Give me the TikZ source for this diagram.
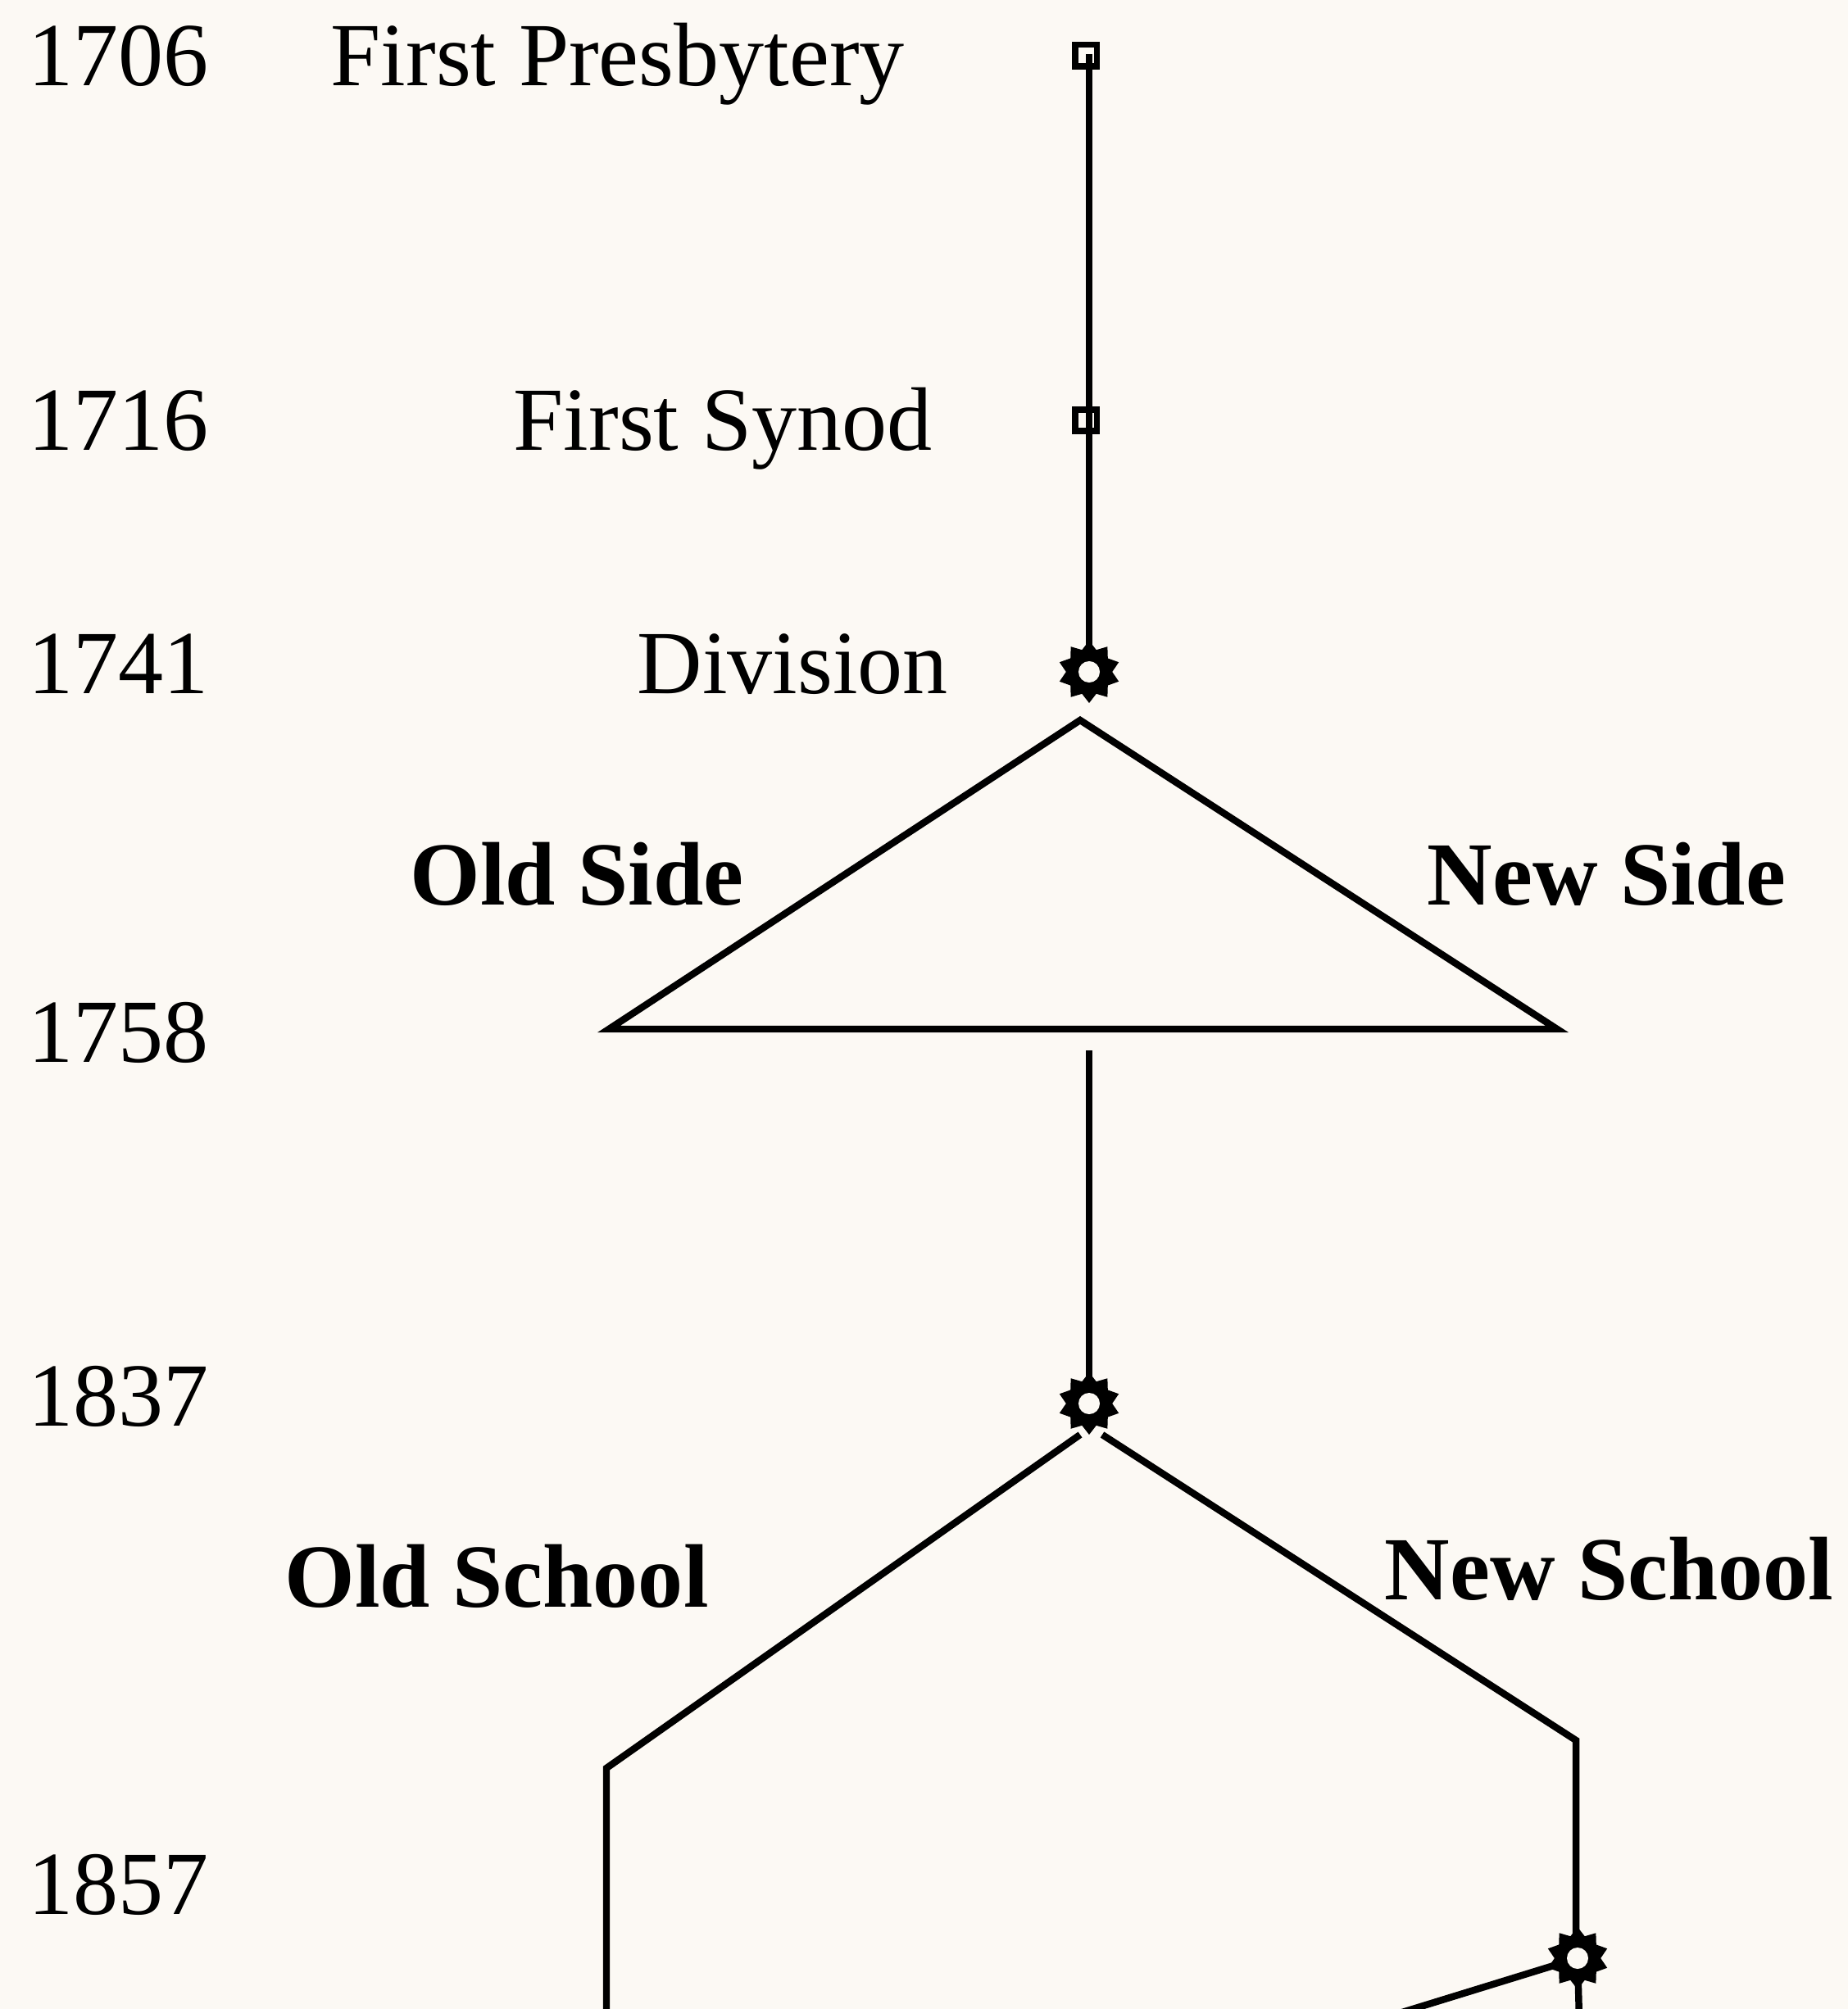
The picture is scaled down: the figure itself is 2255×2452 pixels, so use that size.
\documentclass[tikz,border=0pt]{standalone}
\usepackage{fontspec}
\setmainfont{Liberation Serif}
\usetikzlibrary{shapes.geometric}
\definecolor{bgc}{RGB}{252,249,244}
\begin{document}
\begin{tikzpicture}[x=0.01cm,y=-0.01cm,
  lbl/.style={anchor=base west,inner sep=0,font=\fontsize{31.3}{36}\selectfont},
  blbl/.style={anchor=base west,inner sep=0,font=\fontsize{31.3}{36}\selectfont\bfseries},
  ln/.style={line width=2.4pt,line join=miter},
  sqmark/.style={rectangle,draw,line width=2pt,fill=bgc,minimum size=0.26cm,inner sep=0},
  gearmark/.style={star,star points=10,star point ratio=1.35,fill=black,minimum size=0.76cm,inner sep=0},
  holemark/.style={circle,fill=bgc,minimum size=0.26cm,inner sep=0}]
\fill[bgc] (0,0) rectangle (2255,2452);
\clip (0,0) rectangle (2255,2452);
% years
\node[lbl] (y1706) at (34,105) {1706};
\node[lbl] (y1716) at (34,550) {1716};
\node[lbl] (y1741) at (34,846) {1741};
\node[lbl] (y1758) at (34,1296) {1758};
\node[lbl] (y1837) at (34,1740) {1837};
\node[lbl] (y1857) at (34,2336) {1857};
% labels
\node[lbl] (tpres) at (403,105) {First Presbytery};
\node[lbl] (tsyn) at (626,550) {First Synod};
\node[lbl] (tdiv) at (777,846) {Division};
\node[blbl] (told) at (500,1104) {Old Side};
\node[blbl] (tnew) at (1741,1104) {New Side};
\node[blbl] (tos) at (347,1961) {Old School};
\node[blbl] (tns) at (1689,1952) {New School};
% points
\coordinate (p1706) at (1329,66);
\coordinate (p1716) at (1329,513);
\coordinate (p1741) at (1329,820);
\coordinate (apex) at (1318,879);
\coordinate (tl) at (743,1256);
\coordinate (tr) at (1900,1256);
\coordinate (m1) at (1329,1282);
\coordinate (p1837) at (1329,1713);
\coordinate (osA) at (1318,1751);
\coordinate (osB) at (740,2158);
\coordinate (osC) at (740,2500);
\coordinate (nsA) at (1345,1751);
\coordinate (nsB) at (1923,2124);
\coordinate (nsC) at (1923,2361);
\coordinate (p1857) at (1925,2390);
\coordinate (bl) at (1620,2484);
\coordinate (bd) at (1928,2500);
% square markers
\node[sqmark] (s1706) at (1325,68) {};
\node[sqmark] (s1716) at (1325,513) {};
% lines
\draw[ln] (p1706) -- (p1741);
\draw[ln] (apex) -- (tl) -- (tr) -- cycle;
\draw[ln] (m1) -- (p1837);
\draw[ln] (osA) -- (osB) -- (osC);
\draw[ln] (nsA) -- (nsB) -- (nsC);
\draw[ln] (p1857) -- (bl);
\draw[ln] (p1857) -- (bd);
% gear markers
\node[gearmark] (g1741) at (p1741) {};
\node[holemark] (h1741) at (p1741) {};
\node[gearmark] (g1837) at (p1837) {};
\node[holemark] (h1837) at (p1837) {};
\node[gearmark] (g1857) at (p1857) {};
\node[holemark] (h1857) at (p1857) {};
\end{tikzpicture}
\end{document}
